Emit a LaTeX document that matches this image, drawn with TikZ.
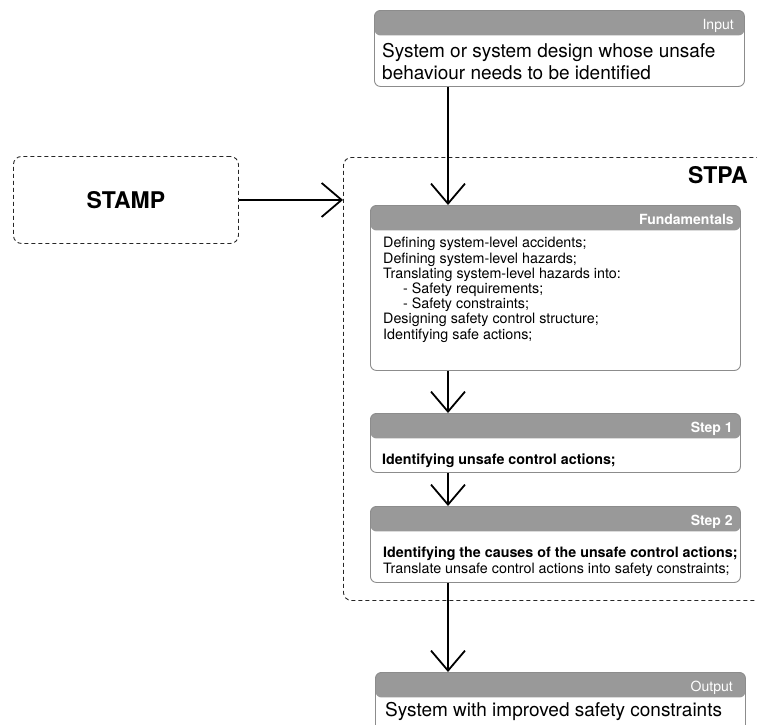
\documentclass[tikz,border=0pt]{standalone}
\usepackage{fontspec}
\setmainfont{TeX Gyre Heros}
\usetikzlibrary{arrows.meta}
\definecolor{hdrgray}{RGB}{153,153,153}
\definecolor{boxgray}{RGB}{140,140,140}
\tikzset{
        stage/.style={draw=boxgray, line width=0.9pt, fill=white, rounded corners=6pt,
                minimum width=370pt, inner sep=0pt, anchor=north west,
                path picture={\fill[hdrgray] (path picture bounding box.north west)
                        rectangle ([yshift=-25pt]path picture bounding box.north east);}},
        hdr/.style={text=white, font=\fontsize{14}{16}\selectfont, anchor=base east, inner sep=0pt},
        body/.style={align=left, anchor=base west, inner sep=0pt, font=\fontsize{14.3}{15.2}\selectfont},
        big/.style={align=left, anchor=base west, inner sep=0pt, font=\fontsize{19}{22}\selectfont},
        frame/.style={draw=black!85, line width=0.9pt, dash pattern=on 4pt off 3pt,
                rounded corners=8pt, inner sep=0pt, anchor=north west},
        flow/.style={line width=1.8pt, -{Straight Barb[length=20pt,width=34pt]}}
}
\begin{document}
\begin{tikzpicture}[x=1pt, y=-1pt]
        \useasboundingbox (0,0) rectangle (757,724);
        \clip (0,0) rectangle (757,724);
        \coordinate (axis) at (448,0);
        \node[frame, minimum width=225pt, minimum height=87pt,
                font=\bfseries\fontsize{23}{26}\selectfont] (stamp) at (13,156) {STAMP};
        \node[frame, minimum width=460pt, minimum height=443pt] (stpa) at (343,157) {};
        \node[anchor=base east, inner sep=0pt, font=\bfseries\fontsize{23}{26}\selectfont] (stpalbl) at (748,183) {STPA};

        \node[stage, minimum height=76pt] (input) at (374,10) {};
        \node[hdr] (inputhdr) at ([xshift=-11pt, yshift=-19pt]input.north east) {Input};
        \node[big] (inputtxt) at ([xshift=8pt, yshift=-69pt]input.north west)
                {System or system design whose unsafe\\behaviour needs to be identified};

        \node[stage, minimum height=165pt] (fund) at (370,205) {};
        \node[hdr, font=\bfseries\fontsize{14}{16}\selectfont] (fundhdr) at ([xshift=-7pt, yshift=-19pt]fund.north east) {Fundamentals};
        \node[body] (fundtxt) at ([xshift=13pt, yshift=-134pt]fund.north west)
                {Defining system-level accidents;\\
                Defining system-level hazards;\\
                Translating system-level hazards into:\\
                \hspace{20pt}- Safety requirements;\\
                \hspace{20pt}- Safety constraints;\\
                Designing safety control structure;\\
                Identifying safe actions;};

        \node[stage, minimum height=59pt] (stepone) at (370,413) {};
        \node[hdr, font=\bfseries\fontsize{14}{16}\selectfont] (stepponehdr) at ([xshift=-8pt, yshift=-19pt]stepone.north east) {Step 1};
        \node[body, font=\bfseries\fontsize{14.3}{16}\selectfont] (steponetxt) at ([xshift=12pt, yshift=-51pt]stepone.north west)
                {Identifying unsafe control actions;};

        \node[stage, minimum height=76pt] (steptwo) at (370,506) {};
        \node[hdr, font=\bfseries\fontsize{14}{16}\selectfont] (steptwohdr) at ([xshift=-8pt, yshift=-19pt]steptwo.north east) {Step 2};
        \node[body, font=\fontsize{14.3}{16}\selectfont] (steptwotxt) at ([xshift=13pt, yshift=-67pt]steptwo.north west)
                {\textbf{Identifying the causes of the unsafe control actions;}\\
                Translate unsafe control actions into safety constraints;};

        \node[stage, minimum height=80pt] (output) at (375,672) {};
        \node[hdr] (outputhdr) at ([xshift=-13pt, yshift=-19pt]output.north east) {Output};
        \node[big] (outputtxt) at ([xshift=10pt, yshift=-44pt]output.north west)
                {System with improved safety constraints};

        \draw[flow] (stamp.east) -- (stamp.east -| stpa.west);
        \foreach \a/\b in {input/fund, fund/stepone, stepone/steptwo, steptwo/output}
        \draw[flow] (\a.south -| axis) -- (\b.north -| axis);
\end{tikzpicture}
\end{document}
